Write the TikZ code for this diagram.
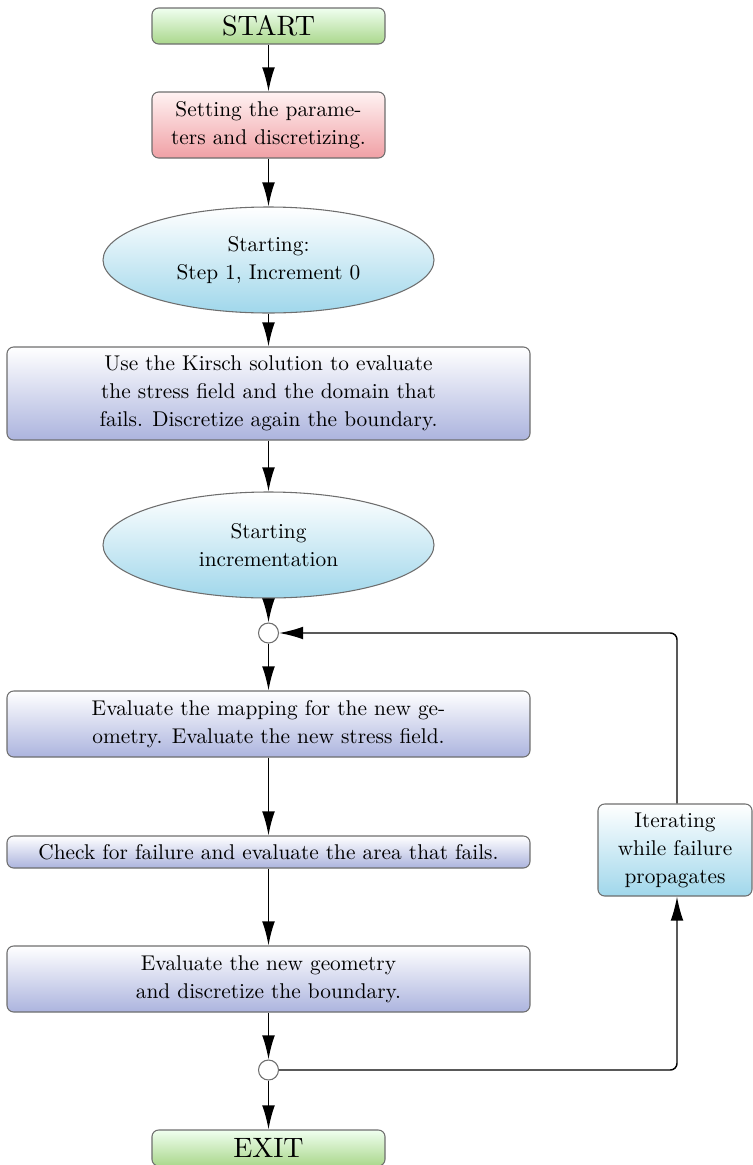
\documentclass[tikz,border=0pt]{standalone}
\usepackage{fontspec}
\setmainfont{lmroman10-regular.otf}
\usetikzlibrary{shapes.geometric,arrows.meta}
\definecolor{bord}{RGB}{110,110,110}
\begin{document}
\begin{tikzpicture}[x=0.75pt,y=-0.75pt,
  base/.style={draw=bord,line width=0.8pt,rounded corners=5pt,inner sep=0pt,align=center,
    font=\fontsize{16}{21}\selectfont},
  greenbox/.style={base,top color=green!6!white,bottom color={rgb,255:red,170;green,215;blue,140},
    minimum width=174.75pt,minimum height=27pt,font=\fontsize{21}{26}\selectfont},
  redbox/.style={base,top color=red!5!white,bottom color={rgb,255:red,240;green,160;blue,165},
    minimum width=174.75pt,minimum height=49.5pt},
  bluebox/.style={base,top color=white,bottom color={rgb,255:red,172;green,180;blue,222},
    minimum width=392.25pt},
  cyanbox/.style={base,top color=white,bottom color={rgb,255:red,160;green,215;blue,235},
    minimum width=115.5pt,minimum height=69pt},
  oval/.style={draw=bord,line width=0.8pt,ellipse,inner sep=0pt,align=center,
    top color=white,bottom color={rgb,255:red,160;green,215;blue,235},
    minimum width=248.25pt,minimum height=79.5pt,font=\fontsize{16}{21}\selectfont},
  junction/.style={draw=bord,line width=0.8pt,circle,fill=white,inner sep=0pt,minimum size=15pt},
  arr/.style={line width=1.1pt,-{Latex[length=18pt,width=9.5pt]}}]
\useasboundingbox (0,0) rectangle (753,1165);
\node[greenbox] (start) at (268.5,26) {START};
\node[redbox] (set) at (268.5,125) {Setting the parame-\\ters and discretizing.};
\node[oval] (ell1) at (268.5,260) {Starting:\\Step 1, Increment 0};
\node[bluebox,minimum height=69.75pt] (kir) at (268.5,393.5) {Use the Kirsch solution to evaluate\\the stress field and the domain that\\fails. Discretize again the boundary.};
\node[oval] (ell2) at (268.5,545) {Starting\\incrementation};
\node[junction] (j1) at (268.5,633) {};
\node[bluebox,minimum height=49.5pt] (map) at (268.5,724) {Evaluate the mapping for the new ge-\\ometry. Evaluate the new stress field.};
\node[bluebox,minimum height=24pt] (chk) at (268.5,852) {Check for failure and evaluate the area that fails.};
\node[bluebox,minimum height=49.5pt] (geo) at (268.5,979) {Evaluate the new geometry\\and discretize the boundary.};
\node[junction] (j2) at (268.5,1070) {};
\node[greenbox] (exit) at (268.5,1148) {EXIT};
\node[cyanbox] (iter) at (675,850) {Iterating\\while failure\\propagates};
\coordinate (c1) at (677,1070);
\coordinate (c2) at (677,633);
\draw[arr] (start) -- (set);
\draw[arr] (set) -- (ell1);
\draw[arr] (ell1) -- (kir);
\draw[arr] (kir) -- (ell2);
\draw[arr] (ell2) -- (j1);
\draw[arr] (j1) -- (map);
\draw[arr] (map) -- (chk);
\draw[arr] (chk) -- (geo);
\draw[arr] (geo) -- (j2);
\draw[arr] (j2) -- (exit);
\draw[arr,rounded corners=5pt] (j2) -- (c1) -- (iter.south -| c1);
\draw[arr,rounded corners=5pt] (iter.north -| c2) -- (c2) -- (j1);
\end{tikzpicture}
\end{document}
